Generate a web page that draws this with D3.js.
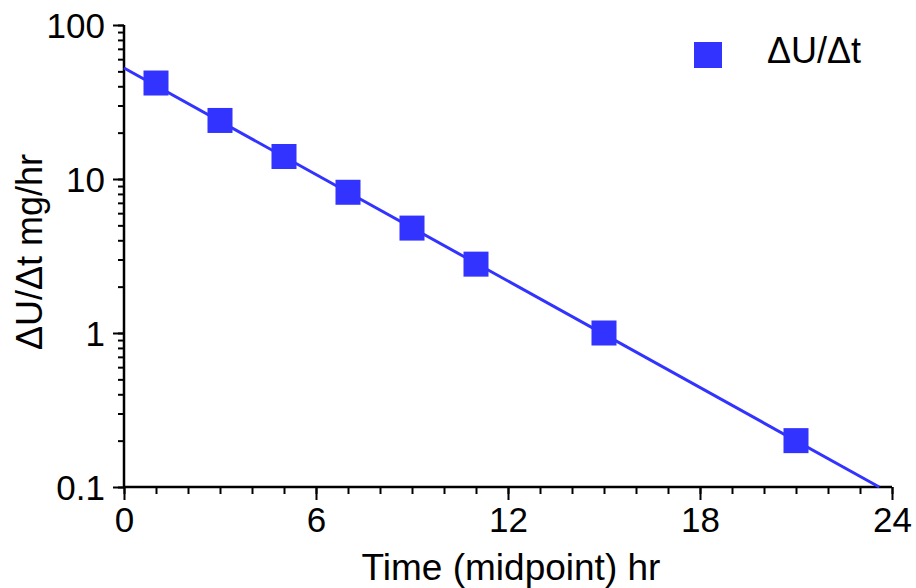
<!DOCTYPE html>
<html>
<head>
<meta charset="utf-8">
<script src="https://cdn.jsdelivr.net/npm/d3@7"></script>
<style>
  body { margin: 0; background: #fff; }
  svg text { font-family: "Liberation Sans", Arial, Helvetica, sans-serif; fill: #000; }
</style>
</head>
<body>
<div id="container"></div>
<script>
const WIDTH = 916;
const HEIGHT = 588;
const MARGIN = { TOP: 25, BOTTOM: 101, LEFT: 124, RIGHT: 24 };

const width = WIDTH - MARGIN.LEFT - MARGIN.RIGHT;
const height = HEIGHT - MARGIN.TOP - MARGIN.BOTTOM;

// measured points
const times = [1, 3, 5, 7, 9, 11, 15, 21];
const rates = [42, 24, 14, 8.2, 4.8, 2.8, 1.0, 0.2];

// fitted line end points
const lineTimes = [0, 23.6];
const lineRates = [52.6, 0.1];

const xTicks = [0, 6, 12, 18, 24];
const yTicks = [0.1, 1, 10, 100];

const BLUE = '#3333ff';

const svg = d3.select('#container')
              .append('svg')
                .attr('width', WIDTH)
                .attr('height', HEIGHT);

const chart = svg.append('g')
                 .attr('transform', `translate(${MARGIN.LEFT}, ${MARGIN.TOP})`);

const xscale = d3.scaleLinear().domain([0, 24]).range([0, width]);
const yscale = d3.scaleLog().domain([0.1, 100]).range([height, 0]);

// minor ticks
const xMinor = d3.range(0, 25, 1);
const yMinor = [];
[0.1, 1, 10].forEach(base => d3.range(1, 10).forEach(k => yMinor.push(base * k)));
yMinor.push(100);

const xAxisMinor = chart.append('g')
                        .attr('transform', `translate(0, ${height})`)
                        .call(d3.axisBottom(xscale).tickValues(xMinor).tickSize(7).tickFormat(''));
const xAxis = chart.append('g')
                   .attr('transform', `translate(0, ${height})`)
                   .call(d3.axisBottom(xscale).tickValues(xTicks).tickSize(13).tickPadding(6)
                           .tickFormat(d3.format('d')));

const yAxisMinor = chart.append('g')
                        .call(d3.axisLeft(yscale).tickValues(yMinor).tickSize(6).tickFormat(''));
const yAxis = chart.append('g')
                   .call(d3.axisLeft(yscale).tickValues(yTicks).tickSize(11).tickPadding(8)
                           .tickFormat(d => d < 1 ? '0.1' : d3.format('d')(d)));

[xAxisMinor, xAxis, yAxisMinor, yAxis].forEach(a => {
    a.select('.domain').remove();
    a.selectAll('.tick line').attr('stroke', '#000').attr('stroke-width', 2);
});
xAxis.selectAll('.tick text').attr('font-size', 35).attr('dy', '0.75em');
yAxis.selectAll('.tick text').attr('font-size', 35).attr('dy', '0.36em');

// axis lines
chart.append('line')
     .attr('x1', 0).attr('x2', width)
     .attr('y1', height).attr('y2', height)
     .attr('stroke', '#000').attr('stroke-width', 2.5);
chart.append('line')
     .attr('x1', 0).attr('x2', 0)
     .attr('y1', 0).attr('y2', height)
     .attr('stroke', '#000').attr('stroke-width', 2.5);

// fit line
const lineData = lineTimes.map((t, i) => ({ t, v: lineRates[i] }));
chart.append('path')
     .datum(lineData)
     .attr('fill', 'none')
     .attr('stroke', BLUE)
     .attr('stroke-width', 3)
     .attr('d', d3.line().x(d => xscale(d.t)).y(d => yscale(d.v)));

// markers
const SQ = 25;
chart.selectAll('rect.pt')
     .data(times.map((t, i) => ({ t, v: rates[i] })))
     .enter()
     .append('rect')
       .attr('class', 'pt')
       .attr('x', d => xscale(d.t) - SQ / 2)
       .attr('y', d => yscale(d.v) - SQ / 2)
       .attr('width', SQ)
       .attr('height', SQ)
       .attr('fill', BLUE);

// axis titles
svg.append('text')
   .attr('x', 511)
   .attr('y', 580)
   .attr('text-anchor', 'middle')
   .attr('font-size', 37)
   .text('Time (midpoint) hr');

svg.append('text')
   .attr('transform', 'translate(42, 252) rotate(-90)')
   .attr('text-anchor', 'middle')
   .attr('font-size', 36)
   .text('ΔU/Δt mg/hr');

// legend
svg.append('rect')
   .attr('x', 694).attr('y', 42)
   .attr('width', 28).attr('height', 26)
   .attr('fill', BLUE);
svg.append('text')
   .attr('x', 767).attr('y', 63)
   .attr('font-size', 36)
   .text('ΔU/Δt');
</script>
</body>
</html>
